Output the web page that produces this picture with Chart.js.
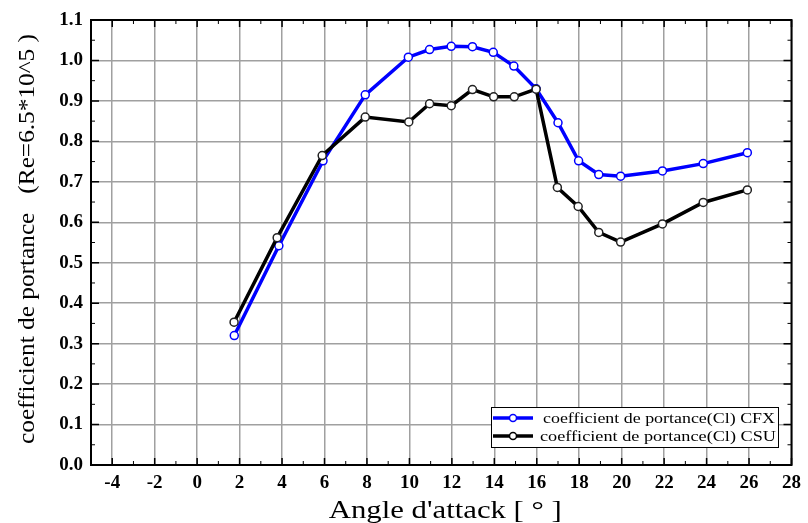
<!DOCTYPE html>
<html>
<head>
<meta charset="utf-8">
<script src="https://cdn.jsdelivr.net/npm/chart.js@4.4.1/dist/chart.umd.min.js"></script>
<style>
html,body{margin:0;padding:0;background:#fff;}
canvas{display:block;}
</style>
</head>
<body>
<canvas id="c" width="808" height="523"></canvas>
<script>
// ---- data ----
const cfxAngles = [1.75, 3.85, 5.93, 7.92, 9.95, 10.95, 11.97, 12.97, 13.95, 14.92, 15.97, 17.0, 17.97, 18.92, 19.95, 21.92, 23.84, 25.92];
const cfxCl     = [0.320, 0.542, 0.752, 0.915, 1.008, 1.027, 1.035, 1.034, 1.020, 0.986, 0.930, 0.846, 0.752, 0.718, 0.714, 0.727, 0.745, 0.772];
const csuAngles = [1.74, 3.77, 5.89, 7.92, 9.97, 10.95, 11.97, 12.97, 13.97, 14.94, 15.97, 16.97, 17.95, 18.92, 19.95, 21.92, 23.84, 25.92];
const csuCl     = [0.353, 0.562, 0.765, 0.860, 0.848, 0.893, 0.888, 0.928, 0.910, 0.910, 0.929, 0.686, 0.639, 0.575, 0.551, 0.596, 0.649, 0.680];
const xTickValues = [-4, -2, 0, 2, 4, 6, 8, 10, 12, 14, 16, 18, 20, 22, 24, 26, 28];
const xMinorValues = [-5, -3, -1, 1, 3, 5, 7, 9, 11, 13, 15, 17, 19, 21, 23, 25, 27];
const yTickValues = [0, 0.1, 0.2, 0.3, 0.4, 0.5, 0.6, 0.7, 0.8, 0.9, 1.0, 1.1];
const yMinorValues = [0.05, 0.15, 0.25, 0.35, 0.45, 0.55, 0.65, 0.75, 0.85, 0.95, 1.05];
const seriesNames = ['coefficient de portance(Cl) CFX', 'coefficient de portance(Cl) CSU'];
const xTitle = "Angle d'attack [ ° ]";
const yTitle = 'coefficient de portance   (Re=6.5*10^5 )';

const SERIF = "'Liberation Serif', 'Times New Roman', serif";
const BLUE = '#0000ff';
const BLACK = '#000000';

function toPts(xs, ys){ return xs.map((x,i)=>({x:x, y:ys[i]})); }

// draw text stretched along its direction to a target length
function stretchedText(ctx, text, font, cx, cy, targetLen, rot, align){
  ctx.save();
  ctx.font = font;
  const w = ctx.measureText(text).width;
  const k = targetLen / w;
  ctx.translate(cx, cy);
  if (rot) ctx.rotate(rot);
  ctx.scale(k, 1);
  ctx.textAlign = align || 'center';
  ctx.textBaseline = 'alphabetic';
  ctx.fillStyle = '#000';
  ctx.fillText(text, 0, 0);
  ctx.restore();
}

const frameAndTicks = {
  id: 'frameAndTicks',
  afterDatasetsDraw(chart){
    const ctx = chart.ctx;
    const a = chart.chartArea;
    const xs = chart.scales.x, ys = chart.scales.y;
    ctx.save();
    ctx.strokeStyle = '#000';
    ctx.lineWidth = 1.5;
    ctx.beginPath();
    xTickValues.forEach(v=>{ const p = xs.getPixelForValue(v);
      ctx.moveTo(p, a.bottom); ctx.lineTo(p, a.bottom-7);
      ctx.moveTo(p, a.top); ctx.lineTo(p, a.top+7); });
    yTickValues.forEach(v=>{ const p = ys.getPixelForValue(v);
      ctx.moveTo(a.left, p); ctx.lineTo(a.left+8, p);
      ctx.moveTo(a.right, p); ctx.lineTo(a.right-8, p); });
    ctx.stroke();
    ctx.lineWidth = 1;
    ctx.beginPath();
    xMinorValues.forEach(v=>{ const p = xs.getPixelForValue(v);
      ctx.moveTo(p, a.bottom); ctx.lineTo(p, a.bottom-4);
      ctx.moveTo(p, a.top); ctx.lineTo(p, a.top+4); });
    yMinorValues.forEach(v=>{ const p = ys.getPixelForValue(v);
      ctx.moveTo(a.left, p); ctx.lineTo(a.left+4, p);
      ctx.moveTo(a.right, p); ctx.lineTo(a.right-4, p); });
    ctx.stroke();
    ctx.lineWidth = 2;
    ctx.strokeRect(a.left, a.top, a.right-a.left, a.bottom-a.top);
    ctx.restore();
  },
  afterDraw(chart){
    const ctx = chart.ctx;
    const a = chart.chartArea;
    // axis titles
    stretchedText(ctx, xTitle, '25px ' + SERIF, (a.left + a.right)/2 + 4, 518, 233, 0, 'center');
    stretchedText(ctx, yTitle, '23px ' + SERIF, 33.5, 239, 410, -Math.PI/2, 'center');
    // legend box (bottom-right inside plot)
    const bx = 491, by = 407, bw = 287, bh = 40;
    ctx.save();
    ctx.fillStyle = '#fff';
    ctx.fillRect(bx, by, bw, bh);
    ctx.strokeStyle = '#000';
    ctx.lineWidth = 1;
    ctx.strokeRect(bx+0.5, by+0.5, bw, bh);
    const rows = [{c:BLUE, t:seriesNames[0], y:by+11, tx:543, w:232},{c:BLACK, t:seriesNames[1], y:by+29, tx:540, w:236}];
    rows.forEach(r=>{
      ctx.strokeStyle = r.c;
      ctx.lineWidth = 3.5;
      ctx.beginPath(); ctx.moveTo(bx+2, r.y); ctx.lineTo(bx+42, r.y); ctx.stroke();
      ctx.beginPath(); ctx.arc(bx+22, r.y, 3.5, 0, Math.PI*2);
      ctx.fillStyle = '#fff'; ctx.fill();
      ctx.lineWidth = 1.5; ctx.stroke();
      stretchedText(ctx, r.t, '15px ' + SERIF, r.tx, r.y + 5, r.w, 0, 'left');
    });
    ctx.restore();
  }
};

new Chart(document.getElementById('c'), {
  type: 'line',
  data: {
    datasets: [
      { label: seriesNames[0], data: toPts(cfxAngles, cfxCl), borderColor: BLUE, backgroundColor: '#fff',
        borderWidth: 3.5, pointRadius: 4, pointBorderWidth: 1.5, pointBorderColor: BLUE, pointBackgroundColor: '#fff',
        tension: 0, order: 2 },
      { label: seriesNames[1], data: toPts(csuAngles, csuCl), borderColor: BLACK, backgroundColor: '#fff',
        borderWidth: 3.5, pointRadius: 4, pointBorderWidth: 1.5, pointBorderColor: '#222', pointBackgroundColor: '#fff',
        tension: 0, order: 1 }
    ]
  },
  options: {
    responsive: false,
    animation: false,
    devicePixelRatio: 1,
    layout: { padding: { left: 0, right: 5, top: 20, bottom: 0 } },
    plugins: { legend: { display: false }, tooltip: { enabled: false } },
    scales: {
      x: {
        type: 'linear', min: -5, max: 28,
        afterBuildTicks: s => { s.ticks = xTickValues.map(v=>({value:v})); },
        afterFit: s => { s.height = 58; },
        grid: { color: '#a0a0a0', lineWidth: 1.5, drawTicks: false },
        border: { display: false },
        ticks: { padding: 7, color: '#000', font: { family: SERIF, size: 19, weight: 'bold' }, maxRotation: 0, autoSkip: false,
          callback: v => String(v) },
        title: { display: false }
      },
      y: {
        min: 0, max: 1.1,
        afterBuildTicks: s => { s.ticks = yTickValues.map(v=>({value:v})); },
        afterFit: s => { s.width = 91; },
        grid: { color: '#a0a0a0', lineWidth: 1.5, drawTicks: false },
        border: { display: false },
        ticks: { padding: 8, color: '#000', font: { family: SERIF, size: 19, weight: 'bold' },
          callback: v => Number(v).toFixed(1) },
        title: { display: false }
      }
    }
  },
  plugins: [frameAndTicks]
});
</script>
</body>
</html>
